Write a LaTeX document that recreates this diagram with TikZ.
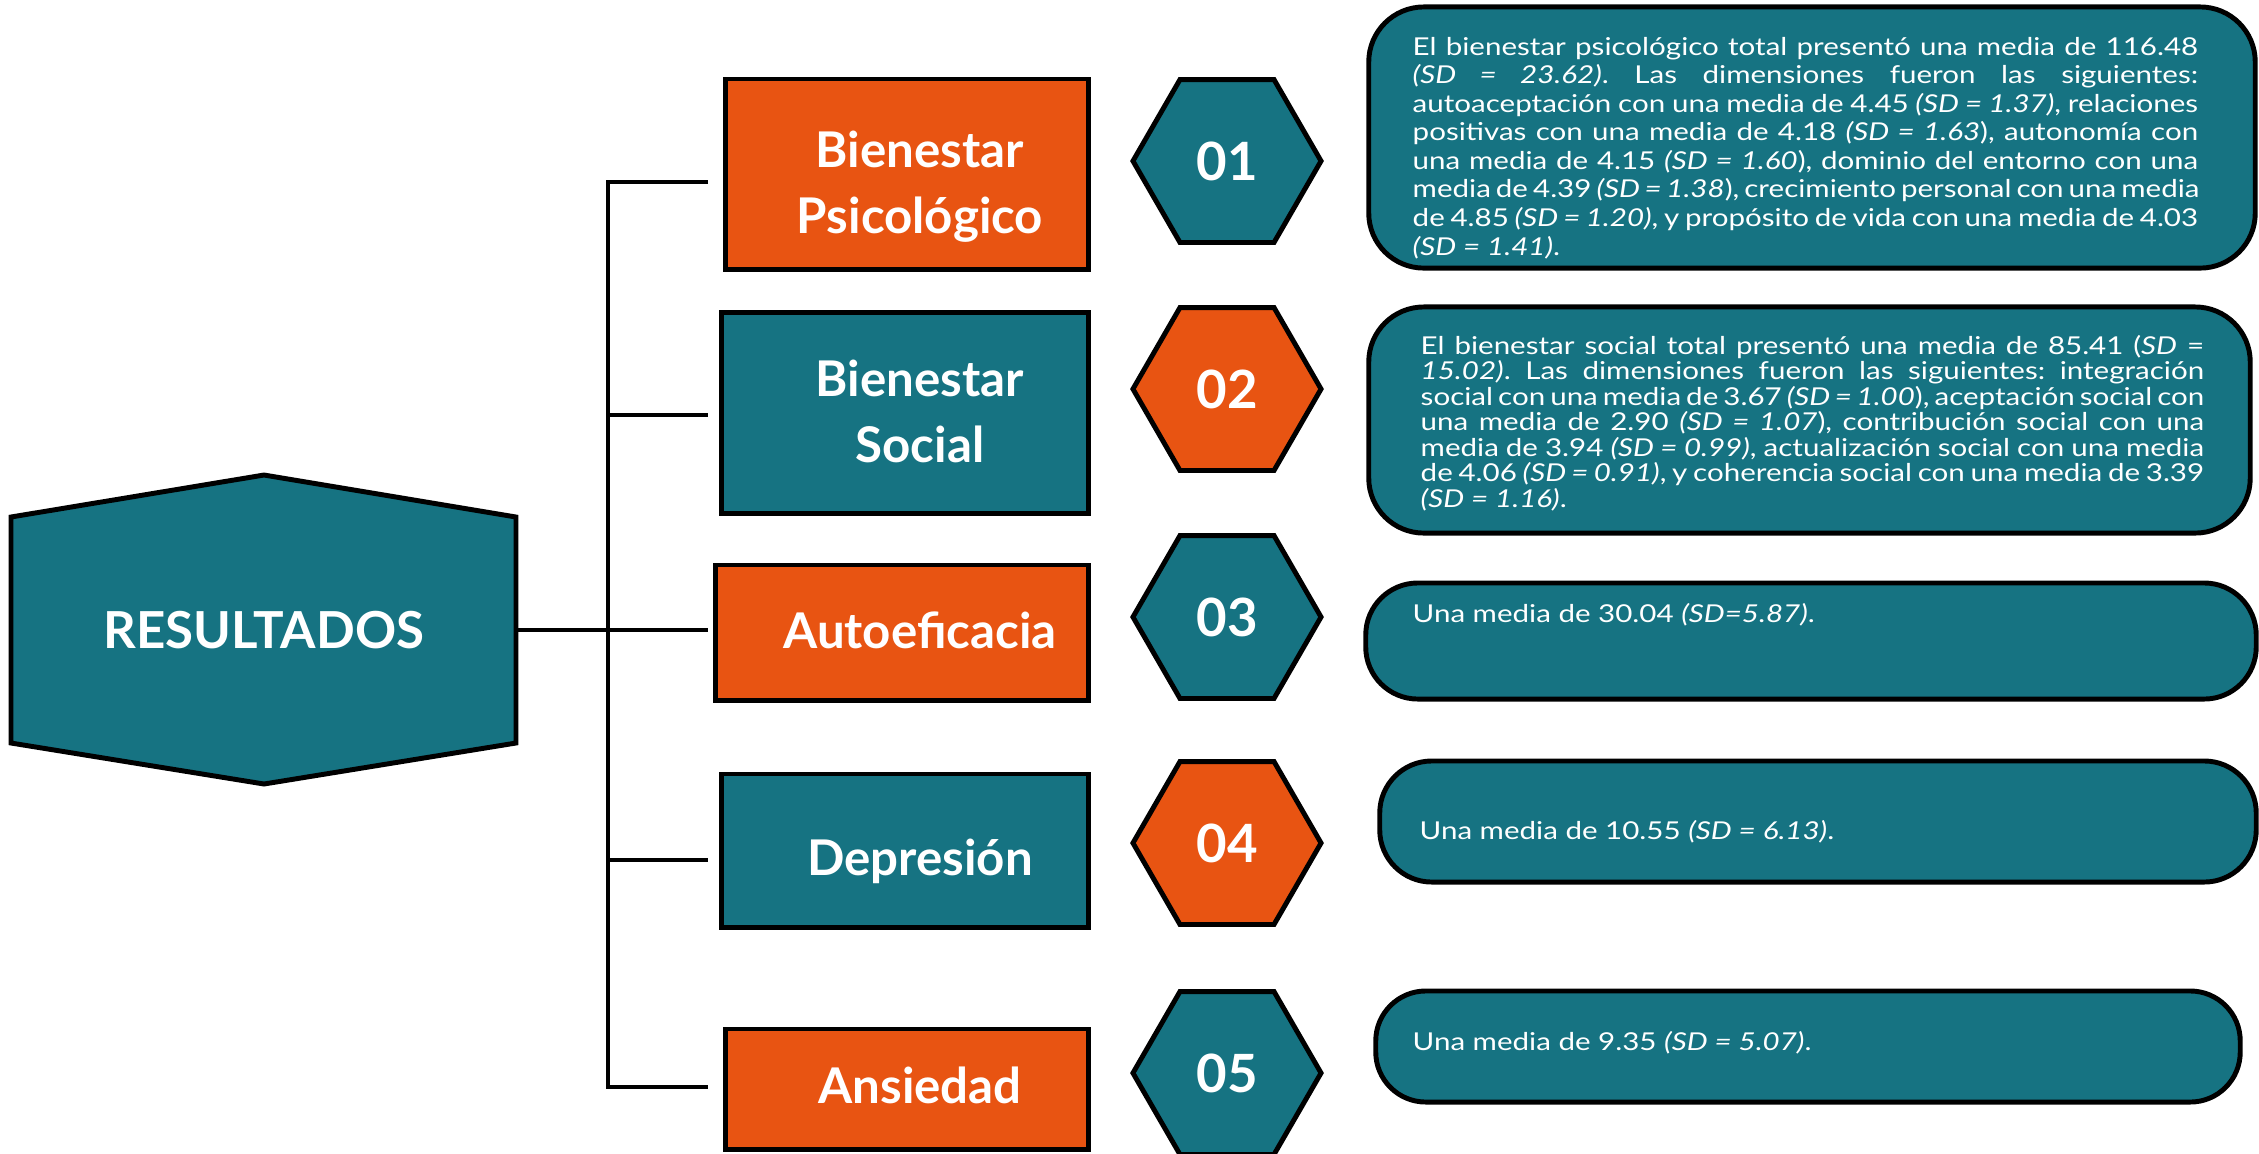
\documentclass[tikz,border=0pt]{standalone}
\usepackage{fontspec}
\setmainfont{Lato}
\newfontfamily\titlefont{Lato}
\newfontfamily\bodyfont[FakeStretch=1.2]{Lato}
\usetikzlibrary{shapes.geometric}
\definecolor{tealc}{RGB}{22,115,130}
\definecolor{orangec}{RGB}{232,84,18}
\newcommand{\jl}[1]{\noindent\hbox to\hsize{#1}\par}
\newcommand{\lastln}[1]{\noindent\hbox to\hsize{#1\hfil}\par}
\frenchspacing
\begin{document}
\begin{tikzpicture}[x=0.01cm,y=-0.01cm,
  box/.style={draw=black, line width=1.4pt, inner sep=0pt},
  ttl/.style={text=white, inner sep=0pt, align=center, font=\titlefont\bfseries\fontsize{14}{18.8}\selectfont},
  hexa/.style={regular polygon, regular polygon sides=6, minimum size=1.88cm, draw=black, line width=1.4pt, inner sep=0pt, text=white, font=\titlefont\bfseries\fontsize{15}{18}\selectfont},
  info/.style={draw=black, line width=1.4pt, fill=tealc, inner sep=0pt},
  body/.style={text=white, inner sep=0pt, anchor=base west, font=\bodyfont\fontsize{7}{8.13}\selectfont},
  conn/.style={line width=1.2pt, draw=black}]
\useasboundingbox (0,0) rectangle (2259,1153);

% central hexagon
\draw[line width=1.4pt, fill=tealc] (11,517) -- (264,475) -- (516,517) -- (516,743) -- (264,784) -- (11,743) -- cycle;
\node[text=white, inner sep=0pt, font=\titlefont\bfseries\fontsize{14.5}{17}\selectfont] (res) at (264,630) {RESULTADOS};
\coordinate (resE) at (516,630);

% connectors
\coordinate (k1) at (608,182);
\coordinate (k2) at (608,415);
\coordinate (k4) at (608,860);
\coordinate (k5) at (608,1087);
\coordinate (e1) at (708,182);
\coordinate (e2) at (708,415);
\coordinate (e3) at (708,630);
\coordinate (e4) at (708,860);
\coordinate (e5) at (708,1087);
\draw[conn] (e1) -- (k1) -- (k5) -- (e5);
\draw[conn] (k2) -- (e2);
\draw[conn] (k4) -- (e4);
\draw[conn] (resE) -- (e3);

% category boxes
\node[box, fill=orangec, minimum width=3.62cm, minimum height=1.90cm] (b1) at (907,174) {};
\node[box, fill=tealc, minimum width=3.66cm, minimum height=2.00cm] (b2) at (905,413) {};
\node[box, fill=orangec, minimum width=3.72cm, minimum height=1.35cm] (b3) at (902,632.5) {};
\node[box, fill=tealc, minimum width=3.66cm, minimum height=1.53cm] (b4) at (905,850.5) {};
\node[box, fill=orangec, minimum width=3.62cm, minimum height=1.20cm] (b5) at (907,1089) {};

\node[ttl, anchor=north] (t1) at (920,130) {Bienestar\\Psicológico};
\node[ttl, anchor=north] (t2) at (920,359) {Bienestar\\Social};
\node[ttl, anchor=base] (t3) at (920,648) {Autoeficacia};
\node[ttl, anchor=base] (t4) at (920,875) {Depresión};
\node[ttl, anchor=base] (t5) at (920,1103) {Ansiedad};

% number hexagons
\node[hexa, fill=tealc] (h1) at (1227,161) {01};
\node[hexa, fill=orangec] (h2) at (1227,389) {02};
\node[hexa, fill=tealc] (h3) at (1227,617) {03};
\node[hexa, fill=orangec] (h4) at (1227,843) {04};
\node[hexa, fill=tealc] (h5) at (1227,1073) {05};

% info boxes
\node[info, rounded corners=0.55cm, minimum width=8.86cm, minimum height=2.61cm] (r1) at (1812,137.5) {};
\node[info, rounded corners=0.55cm, minimum width=8.81cm, minimum height=2.26cm] (r2) at (1809.5,420) {};
\node[info, rounded corners=0.52cm, minimum width=8.90cm, minimum height=1.16cm] (r3) at (1811,641) {};
\node[info, rounded corners=0.52cm, minimum width=8.76cm, minimum height=1.21cm] (r4) at (1818,821.5) {};
\node[info, rounded corners=0.50cm, minimum width=8.64cm, minimum height=1.11cm] (r5) at (1808,1046.5) {};

\node[body] (x1) at (1412,55) {\vtop{\hsize=7.85cm
\jl{El bienestar psicológico total presentó una media de 116.48}
\jl{\textit{(SD = 23.62)}. Las dimensiones fueron las siguientes:}
\jl{autoaceptación con una media de 4.45 \textit{(SD = 1.37)}, relaciones}
\jl{positivas con una media de 4.18 \textit{(SD = 1.63}), autonomía con}
\jl{una media de 4.15 \textit{(SD = 1.60}), dominio del entorno con una}
\jl{media de 4.39 \textit{(SD = 1.38}), crecimiento personal con una media}
\jl{de 4.85 \textit{(SD = 1.20)}, y propósito de vida con una media de 4.03}
\lastln{\textit{(SD = 1.41)}.}}};

\node[body, font=\bodyfont\fontsize{7}{7.26}\selectfont] (x2) at (1420,354) {\vtop{\hsize=7.83cm
\jl{El bienestar social total presentó una media de 85.41 (\textit{SD} =}
\jl{\textit{15.02)}. Las dimensiones fueron las siguientes: integración}
\jl{social con una media de 3.67 \textit{(SD = 1.00}), aceptación social con}
\jl{una media de 2.90 \textit{(SD = 1.07}), contribución social con una}
\jl{media de 3.94 \textit{(SD = 0.99)}, actualización social con una media}
\jl{de 4.06 \textit{(SD = 0.91)}, y coherencia social con una media de 3.39}
\lastln{\textit{(SD = 1.16)}.}}};

\node[body] (x3) at (1412,622) {Una media de 30.04 \textit{(SD=5.87)}.};
\node[body] (x4) at (1419,839) {Una media de 10.55 \textit{(SD = 6.13)}.};
\node[body] (x5) at (1412,1050) {Una media de 9.35 \textit{(SD = 5.07)}.};
\end{tikzpicture}
\end{document}
